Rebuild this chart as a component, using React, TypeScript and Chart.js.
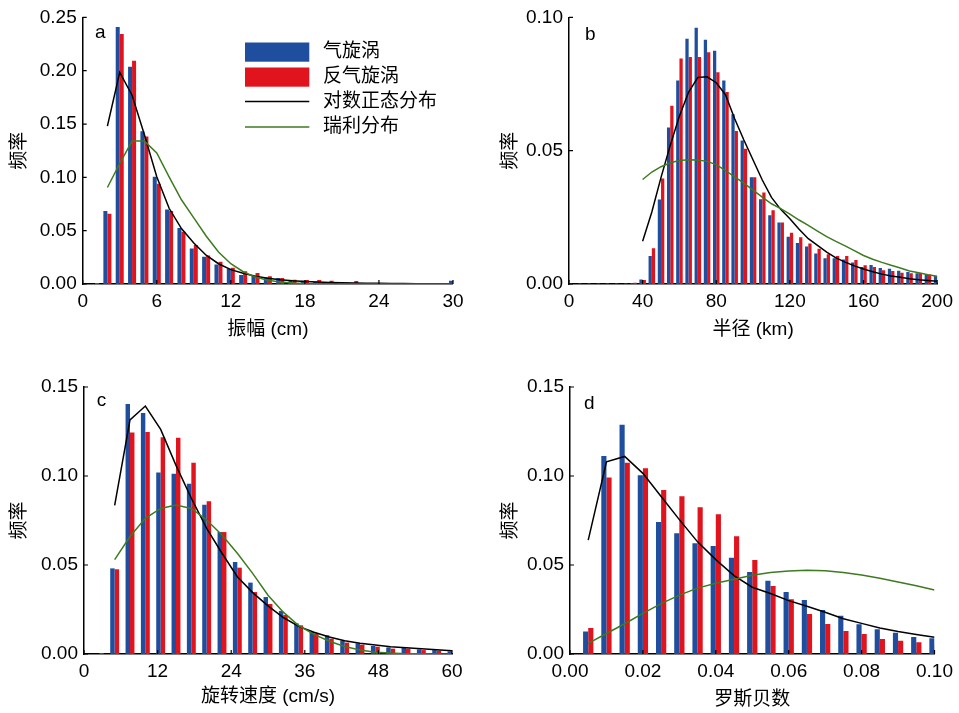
import React, { useEffect, useRef } from 'react';
import { Chart, registerables } from 'chart.js';

Chart.register(...registerables);

const W = 959;
const H = 713;
const BLUE = '#1f4e9f';
const RED = '#e1141d';
const BLACK = '#000000';
const GREEN = '#3e7b20';
const FONT = "'Liberation Sans', Arial, 'Noto Sans CJK SC', sans-serif";

const seriesLabels = ['气旋涡', '反气旋涡', '对数正态分布', '瑞利分布'];
const yTitle = '频率';

// ---------- Panel a: 振幅 ----------
const binsA = [1, 2, 3, 4, 5, 6, 7, 8, 9, 10, 11, 12, 13, 14, 15, 16, 17, 18, 19, 20, 21, 22, 23, 24, 25, 26, 27, 28, 29, 30];
const cycA = [0, 0.0684, 0.241, 0.2038, 0.1433, 0.1005, 0.0699, 0.0524, 0.0334, 0.0256, 0.0184, 0.0144, 0.0084, 0.0075, 0.006, 0.0056, 0.003, 0.003, 0.002, 0.0015, 0.001, 0.001, 0.0008, 0.0006, 0.0006, 0.0005, 0.0004, 0.0004, 0.0003, 0.003];
const antiA = [0.001, 0.0659, 0.2344, 0.2094, 0.1383, 0.094, 0.0684, 0.049, 0.0365, 0.0268, 0.0209, 0.0153, 0.0119, 0.0103, 0.0072, 0.0056, 0.004, 0.0037, 0.0037, 0.003, 0.001, 0.0028, 0.001, 0.0008, 0.0008, 0.0006, 0.0006, 0.0005, 0.0005, 0.0006];
const fitXA = [2, 3, 4, 5, 6, 7, 8, 9, 10, 11, 12, 13, 14, 15, 16, 17, 18, 19, 20, 21, 22, 23, 24, 25, 26, 27, 28, 29, 30];
const lognA = [0.148, 0.1985, 0.177, 0.14, 0.1005, 0.071, 0.052, 0.0385, 0.027, 0.019, 0.0135, 0.01, 0.0072, 0.0053, 0.004, 0.003, 0.0023, 0.0018, 0.0014, 0.0011, 0.0009, 0.0007, 0.0006, 0.0005, 0.0004, 0.0003, 0.0003, 0.0002, 0.0002];
const rayA = [0.0905, 0.113, 0.134, 0.134, 0.123, 0.1005, 0.079, 0.062, 0.045, 0.03, 0.019, 0.0115, 0.0065, 0.0035, 0.0018, 0.0009, 0.0004, 0.0002, 0.0001, 0, 0, 0, 0, 0, 0, 0, 0, 0, 0];
const xTitleA = '振幅 (cm)';

// ---------- Panel b: 半径 ----------
const binsB = [0, 5, 10, 15, 20, 25, 30, 35, 40, 45, 50, 55, 60, 65, 70, 75, 80, 85, 90, 95, 100, 105, 110, 115, 120, 125, 130, 135, 140, 145, 150, 155, 160, 165, 170, 175, 180, 185, 190, 195, 200];
const cycB = [0, 0, 0, 0, 0, 0, 0, 0.0003, 0.0017, 0.0105, 0.0317, 0.0587, 0.0763, 0.092, 0.0961, 0.0916, 0.0875, 0.0763, 0.0637, 0.0538, 0.04, 0.0318, 0.0258, 0.0231, 0.0177, 0.0154, 0.0141, 0.0114, 0.0097, 0.0097, 0.0092, 0.0081, 0.0064, 0.0071, 0.006, 0.0057, 0.005, 0.0045, 0.004, 0.0035, 0.003];
const antiB = [0.0003, 0.0002, 0.0002, 0.0002, 0.0002, 0.0002, 0.0002, 0.0005, 0.0015, 0.0134, 0.0396, 0.0669, 0.0846, 0.0851, 0.0851, 0.0869, 0.0794, 0.072, 0.0574, 0.0507, 0.04, 0.0343, 0.0277, 0.0231, 0.0192, 0.0175, 0.0152, 0.0132, 0.0112, 0.0105, 0.0105, 0.009, 0.007, 0.0064, 0.0052, 0.0049, 0.0042, 0.004, 0.0041, 0.0036, 0.003];
const fitXB = [40, 45, 50, 55, 60, 65, 70, 75, 80, 85, 90, 95, 100, 105, 110, 115, 120, 125, 130, 135, 140, 145, 150, 155, 160, 165, 170, 175, 180, 185, 190, 195, 200];
const lognB = [0.016, 0.027, 0.04, 0.052, 0.063, 0.072, 0.0775, 0.0777, 0.0755, 0.071, 0.062, 0.054, 0.0465, 0.039, 0.0325, 0.028, 0.0245, 0.0205, 0.017, 0.0145, 0.012, 0.0098, 0.0082, 0.0068, 0.0056, 0.0046, 0.0037, 0.003, 0.0025, 0.002, 0.0016, 0.0013, 0.001];
const rayB = [0.0392, 0.042, 0.044, 0.0455, 0.0463, 0.0466, 0.0465, 0.046, 0.0448, 0.0425, 0.0402, 0.0378, 0.0352, 0.0326, 0.0301, 0.0283, 0.0262, 0.024, 0.022, 0.0198, 0.0178, 0.016, 0.0143, 0.0125, 0.0107, 0.0093, 0.0081, 0.007, 0.006, 0.0049, 0.0042, 0.0035, 0.0029];
const xTitleB = '半径 (km)';

// ---------- Panel c: 旋转速度 ----------
const binsC = [2.5, 5, 7.5, 10, 12.5, 15, 17.5, 20, 22.5, 25, 27.5, 30, 32.5, 35, 37.5, 40, 42.5, 45, 47.5, 50, 52.5, 55, 57.5, 60];
const cycC = [0, 0.0481, 0.1404, 0.1354, 0.1019, 0.1013, 0.0957, 0.0839, 0.0685, 0.0517, 0.0401, 0.032, 0.0242, 0.0172, 0.0124, 0.0105, 0.0075, 0.006, 0.0045, 0.0037, 0.0034, 0.0026, 0.0022, 0.0015];
const antiC = [0.0005, 0.0476, 0.1245, 0.1247, 0.1217, 0.1215, 0.1075, 0.0858, 0.0685, 0.0485, 0.0348, 0.0281, 0.0219, 0.0161, 0.0116, 0.0086, 0.0064, 0.0052, 0.0041, 0.003, 0.003, 0.0022, 0.0019, 0.0017];
const fitXC = [5, 7.5, 10, 12.5, 15, 17.5, 20, 22.5, 25, 27.5, 30, 32.5, 35, 37.5, 40, 42.5, 45, 47.5, 50, 52.5, 55, 57.5, 60];
const lognC = [0.0835, 0.1315, 0.1393, 0.1262, 0.106, 0.0875, 0.0706, 0.0566, 0.0434, 0.0345, 0.027, 0.0205, 0.0155, 0.0122, 0.0095, 0.0075, 0.006, 0.005, 0.0041, 0.0035, 0.003, 0.0024, 0.0018];
const rayC = [0.053, 0.066, 0.0762, 0.0818, 0.0837, 0.0818, 0.0753, 0.0669, 0.0566, 0.0453, 0.033, 0.0235, 0.016, 0.011, 0.0072, 0.0042, 0.0022, 0.001, 0.0005, 0.0002, 0.0001, 0, 0];
const xTitleC = '旋转速度 (cm/s)';

// ---------- Panel d: 罗斯贝数 ----------
const binsD = [0.005, 0.01, 0.015, 0.02, 0.025, 0.03, 0.035, 0.04, 0.045, 0.05, 0.055, 0.06, 0.065, 0.07, 0.075, 0.08, 0.085, 0.09, 0.095, 0.1];
const cycD = [0.0127, 0.1112, 0.1288, 0.1004, 0.0742, 0.0678, 0.0622, 0.0607, 0.0541, 0.0461, 0.0412, 0.0348, 0.0303, 0.0247, 0.0215, 0.0167, 0.0139, 0.012, 0.0096, 0.0088];
const antiD = [0.0146, 0.0991, 0.1075, 0.1043, 0.0921, 0.0886, 0.0824, 0.0785, 0.0661, 0.0528, 0.0382, 0.0307, 0.0225, 0.0169, 0.0129, 0.0112, 0.0084, 0.0075, 0.0066, 0.0049];
const fitXD = binsD;
const lognD = [0.064, 0.108, 0.111, 0.1015, 0.0885, 0.0755, 0.063, 0.053, 0.044, 0.0375, 0.034, 0.03, 0.0268, 0.0235, 0.0198, 0.0172, 0.0146, 0.0126, 0.011, 0.0094];
const rayD = [0.006, 0.0115, 0.017, 0.0228, 0.0283, 0.0331, 0.037, 0.0398, 0.042, 0.0443, 0.0458, 0.0466, 0.0471, 0.0468, 0.0458, 0.0444, 0.0426, 0.0405, 0.0383, 0.036];
const xTitleD = '罗斯贝数';

type Panel = {
  letter: string;
  bins: number[];
  cyc: number[];
  anti: number[];
  fitX: number[];
  logn: number[];
  ray: number[];
  xMax: number;
  xStep: number;
  xDigits: number;
  yMax: number;
  xTitle: string;
  area: { l: number; r: number; t: number; b: number };
  yTitleX: number;
  xTitleY: number;
  cat: number;
  letterDX: number;
  letterDY: number;
  legend: boolean;
  hollowLast: boolean;
};

const panels: Panel[] = [
  {
    letter: 'a', bins: binsA, cyc: cycA, anti: antiA, fitX: fitXA, logn: lognA, ray: rayA,
    xMax: 30, xStep: 6, xDigits: 0, yMax: 0.25, xTitle: xTitleA,
    area: { l: 82.7, r: 453, t: 17, b: 284 }, yTitleX: 19.5, xTitleY: 330, cat: 0.65,
    letterDX: 12.3, letterDY: 21, legend: true, hollowLast: false,
  },
  {
    letter: 'b', bins: binsB, cyc: cycB, anti: antiB, fitX: fitXB, logn: lognB, ray: rayB,
    xMax: 200, xStep: 40, xDigits: 0, yMax: 0.1, xTitle: xTitleB,
    area: { l: 569, r: 940, t: 17, b: 284 }, yTitleX: 511, xTitleY: 330, cat: 0.71,
    letterDX: 16, letterDY: 23, legend: false, hollowLast: false,
  },
  {
    letter: 'c', bins: binsC, cyc: cycC, anti: antiC, fitX: fitXC, logn: lognC, ray: rayC,
    xMax: 60, xStep: 12, xDigits: 0, yMax: 0.15, xTitle: xTitleC,
    area: { l: 84, r: 452, t: 387, b: 654 }, yTitleX: 19.5, xTitleY: 697, cat: 0.58,
    letterDX: 12.7, letterDY: 19, legend: false, hollowLast: false,
  },
  {
    letter: 'd', bins: binsD, cyc: cycD, anti: antiD, fitX: fitXD, logn: lognD, ray: rayD,
    xMax: 0.1, xStep: 0.02, xDigits: 2, yMax: 0.15, xTitle: xTitleD,
    area: { l: 570, r: 938.5, t: 387, b: 654 }, yTitleX: 511, xTitleY: 700, cat: 0.565,
    letterDX: 14, letterDY: 22, legend: false, hollowLast: true,
  },
];

const TICK_FONT = { family: FONT, size: 19 };
const TITLE_FONT = { family: FONT, size: 19, lineHeight: 1.2 };
const HALF_TITLE = 19 * 1.2 / 2;

function pts(xs: number[], ys: number[]) {
  return ys.map((y, i) => ({ x: xs[i], y }));
}

function decorPlugin(p: Panel) {
  return {
    id: 'decor' + p.letter,
    afterDraw(chart: any) {
      const ctx = chart.ctx as CanvasRenderingContext2D;
      const area = chart.chartArea;
      const xs = chart.scales.x;
      const ys = chart.scales.y;
      ctx.save();
      // inward tick marks
      ctx.strokeStyle = BLACK;
      ctx.lineWidth = 1.2;
      ctx.beginPath();
      xs.ticks.forEach((t: any) => {
        const px = xs.getPixelForValue(t.value);
        ctx.moveTo(px, area.bottom);
        ctx.lineTo(px, area.bottom - 4);
      });
      ys.ticks.forEach((t: any) => {
        const py = ys.getPixelForValue(t.value);
        ctx.moveTo(area.left, py);
        ctx.lineTo(area.left + 4, py);
      });
      ctx.stroke();
      // panel letter
      ctx.fillStyle = BLACK;
      ctx.font = `19px ${FONT}`;
      ctx.textAlign = 'left';
      ctx.textBaseline = 'alphabetic';
      ctx.fillText(p.letter, area.left + p.letterDX, area.top + p.letterDY);
      // legend
      if (p.legend) {
        const ds = chart.data.datasets;
        const x0 = area.left + 162.3;
        const sw = 64.3;
        const rows = [52, 77, 101.5, 127];
        ctx.font = `19px ${FONT}`;
        ctx.textBaseline = 'middle';
        ds.forEach((d: any, i: number) => {
          const cy = rows[i];
          if (d.type === 'bar') {
            ctx.fillStyle = d.borderColor;
            ctx.fillRect(x0, cy - 9.5, sw, 19.2);
          } else {
            ctx.strokeStyle = d.borderColor;
            ctx.lineWidth = 1.5;
            ctx.beginPath();
            ctx.moveTo(x0, cy);
            ctx.lineTo(x0 + sw, cy);
            ctx.stroke();
          }
          ctx.fillStyle = BLACK;
          ctx.fillText(d.label, x0 + 78, cy);
        });
      }
      ctx.restore();
    },
  };
}

function buildConfig(p: Panel) {
  const padLeft = p.yTitleX - HALF_TITLE;
  const scaleBottom = p.xTitleY + HALF_TITLE;
  const yWidth = p.area.l - padLeft;
  const xHeight = scaleBottom - p.area.b;
  const last = p.anti.length - 1;
  return {
    type: 'bar',
    data: {
      datasets: [
        {
          type: 'bar', label: seriesLabels[0], data: pts(p.bins, p.cyc),
          backgroundColor: BLUE, borderColor: BLUE, borderWidth: 0,
          categoryPercentage: p.cat, barPercentage: 1, order: 5,
        },
        {
          type: 'bar', label: seriesLabels[1], data: pts(p.bins, p.anti),
          backgroundColor: (c: any) => (p.hollowLast && c.dataIndex === last ? '#ffffff' : RED),
          borderColor: RED,
          borderWidth: (c: any) => (p.hollowLast && c.dataIndex === last ? 1.2 : 0),
          borderSkipped: false,
          categoryPercentage: p.cat, barPercentage: 1, order: 5,
        },
        {
          type: 'line', label: seriesLabels[2], data: pts(p.fitX, p.logn),
          borderColor: BLACK, borderWidth: 1.5, pointRadius: 0, tension: 0, fill: false, order: 1,
        },
        {
          type: 'line', label: seriesLabels[3], data: pts(p.fitX, p.ray),
          borderColor: GREEN, borderWidth: 1.5, pointRadius: 0, tension: 0, fill: false, order: 0,
        },
      ],
    },
    options: {
      animation: false,
      responsive: false,
      maintainAspectRatio: false,
      events: [],
      layout: {
        padding: { left: padLeft, right: W - p.area.r, top: p.area.t, bottom: H - scaleBottom },
      },
      plugins: { legend: { display: false }, tooltip: { enabled: false }, title: { display: false } },
      scales: {
        x: {
          type: 'linear', min: 0, max: p.xMax, offset: false,
          grid: { display: false, drawTicks: false, offset: false },
          border: { display: true, color: BLACK, width: 1.5 },
          ticks: {
            stepSize: p.xStep, font: TICK_FONT, color: BLACK, padding: 6,
            maxRotation: 0, autoSkip: false, includeBounds: false,
            callback: (v: any) => Number(v).toFixed(p.xDigits),
          },
          title: { display: true, text: p.xTitle, font: TITLE_FONT, color: BLACK, padding: 0 },
          afterFit: (s: any) => { s.height = xHeight; },
        },
        y: {
          type: 'linear', min: 0, max: p.yMax,
          grid: { display: false, drawTicks: false },
          border: { display: true, color: BLACK, width: 1.5 },
          ticks: {
            stepSize: 0.05, font: TICK_FONT, color: BLACK, padding: 6,
            callback: (v: any) => Number(v).toFixed(2),
          },
          title: { display: true, text: yTitle, font: TITLE_FONT, color: BLACK, padding: 0 },
          afterFit: (s: any) => { s.width = yWidth; },
        },
      },
    },
    plugins: [decorPlugin(p)],
  };
}

function PanelChart({ panel }: { panel: Panel }) {
  const ref = useRef<HTMLCanvasElement | null>(null);
  useEffect(() => {
    if (!ref.current) return;
    const chart = new Chart(ref.current, buildConfig(panel) as any);
    return () => chart.destroy();
  }, [panel]);
  return (
    <canvas
      ref={ref}
      width={W}
      height={H}
      style={{ position: 'absolute', left: 0, top: 0, width: W, height: H }}
    />
  );
}

export default function App() {
  return (
    <div style={{ position: 'absolute', left: 0, top: 0, width: W, height: H, background: '#ffffff', overflow: 'hidden' }}>
      {panels.map((p) => (
        <PanelChart key={p.letter} panel={p} />
      ))}
    </div>
  );
}
